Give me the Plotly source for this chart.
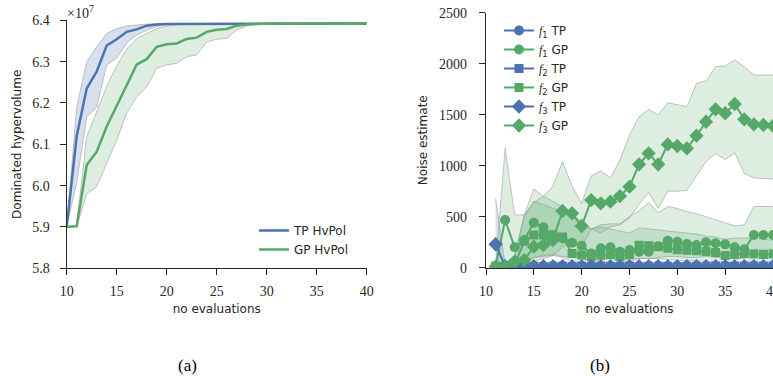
import plotly.graph_objects as go

# ---------------- data: panel (a) (values in units of 1e7) ----------------
evals_a = list(range(10, 41))
tp_mean = [5.900, 6.120, 6.235, 6.276, 6.339, 6.354, 6.372, 6.378, 6.387, 6.390,
           6.391, 6.391, 6.392, 6.392, 6.392, 6.392, 6.392, 6.392, 6.392, 6.392,
           6.392, 6.392, 6.392, 6.392, 6.392, 6.392, 6.392, 6.392, 6.392, 6.392, 6.392]
tp_upper = [5.900, 6.190, 6.300, 6.336, 6.368, 6.380, 6.386, 6.389, 6.391, 6.392,
            6.392, 6.392, 6.392, 6.392, 6.392, 6.392, 6.392, 6.392, 6.392, 6.392,
            6.392, 6.392, 6.392, 6.392, 6.392, 6.392, 6.392, 6.392, 6.392, 6.392, 6.392]
tp_lower = [5.900, 6.008, 6.166, 6.190, 6.292, 6.309, 6.345, 6.364, 6.376, 6.385,
            6.389, 6.390, 6.391, 6.391, 6.391, 6.391, 6.391, 6.391, 6.391, 6.391,
            6.391, 6.391, 6.391, 6.391, 6.391, 6.391, 6.391, 6.391, 6.391, 6.391, 6.391]
gp_mean = [5.900, 5.902, 6.050, 6.082, 6.143, 6.191, 6.243, 6.293, 6.306, 6.336,
           6.342, 6.344, 6.355, 6.358, 6.372, 6.377, 6.379, 6.387, 6.390, 6.391,
           6.392, 6.392, 6.392, 6.392, 6.392, 6.392, 6.392, 6.392, 6.392, 6.392, 6.392]
gp_upper = [5.900, 5.905, 6.118, 6.180, 6.240, 6.290, 6.330, 6.356, 6.368, 6.380,
            6.386, 6.389, 6.390, 6.391, 6.392, 6.392, 6.392, 6.392, 6.392, 6.392,
            6.392, 6.392, 6.392, 6.392, 6.392, 6.392, 6.392, 6.392, 6.392, 6.392, 6.392]
gp_lower = [5.900, 5.900, 5.981, 5.997, 6.054, 6.110, 6.175, 6.215, 6.239, 6.284,
            6.292, 6.296, 6.312, 6.316, 6.348, 6.354, 6.356, 6.377, 6.386, 6.390,
            6.391, 6.391, 6.391, 6.391, 6.391, 6.391, 6.391, 6.391, 6.391, 6.391, 6.391]

# ---------------- data: panel (b) ----------------
evals_b = list(range(11, 41))
f1_tp = [12, 10, 9, 11, 10, 12, 11, 10, 12, 11, 10, 12, 11, 10, 11, 12, 10, 11, 12, 11,
         10, 11, 12, 10, 11, 12, 11, 10, 11, 12]
f2_tp = [14, 13, 12, 14, 13, 12, 14, 13, 12, 13, 14, 13, 12, 13, 14, 12, 13, 14, 13, 12,
         13, 14, 12, 13, 14, 13, 12, 13, 14, 13]
f3_tp = [230, 15, 14, 16, 15, 14, 15, 16, 14, 15, 16, 15, 14, 15, 16, 14, 15, 16, 15, 14,
         15, 16, 14, 15, 16, 15, 14, 15, 16, 15]
f1_gp = [10, 467, 200, 271, 441, 396, 320, 288, 245, 216, 140, 190, 200, 157, 173, 157,
         157, 210, 265, 255, 232, 222, 249, 239, 229, 200, 180, 320, 320, 320]
f2_gp = [15, 15, 30, 260, 320, 320, 320, 300, 140, 125, 110, 125, 130, 110, 130, 220,
         215, 205, 190, 175, 170, 165, 160, 150, 120, 130, 140, 135, 130, 135]
f3_gp = [10, 10, 59, 75, 206, 222, 271, 556, 533, 409, 663, 631, 647, 702, 794, 1013,
         1121, 1013, 1209, 1193, 1170, 1294, 1431, 1553, 1514, 1605, 1455, 1406, 1399, 1390]

f3_tp_lo = [0, 0, 0, 0, 0, 0, 0, 0, 0, 0, 0, 0, 0, 0, 0, 0, 0, 0, 0, 0,
            0, 0, 0, 0, 0, 0, 0, 0, 0, 0]
f3_tp_hi = [680, 30, 28, 30, 29, 28, 30, 29, 28, 29, 30, 29, 28, 29, 30, 28, 29, 30, 29, 28,
            29, 30, 28, 29, 30, 29, 28, 29, 30, 29]
f1_gp_lo = [0, 0, 0, 60, 100, 120, 130, 110, 100, 90, 60, 80, 90, 70, 80, 90, 90, 100,
            110, 110, 100, 100, 110, 100, 100, 90, 90, 180, 180, 180]
f1_gp_hi = [30, 1170, 515, 520, 770, 700, 650, 600, 520, 450, 380, 420, 430, 430, 500,
            560, 640, 540, 600, 580, 550, 530, 500, 470, 440, 410, 420, 600, 600, 600]
f2_gp_lo = [0, 0, 0, 50, 100, 110, 120, 100, 60, 50, 40, 50, 50, 40, 50, 90, 90, 90, 80,
            70, 70, 70, 60, 60, 50, 50, 60, 60, 50, 60]
f2_gp_hi = [30, 40, 120, 500, 650, 620, 580, 560, 500, 420, 380, 400, 380, 360, 340, 390,
            380, 370, 360, 350, 340, 330, 310, 300, 280, 290, 290, 290, 280, 270]
f3_gp_lo = [0, 0, 0, 0, 60, 90, 120, 200, 250, 200, 380, 340, 400, 420, 490, 620, 740,
            580, 750, 750, 760, 900, 1040, 1120, 1060, 1125, 925, 880, 875, 870]
f3_gp_hi = [30, 40, 120, 520, 640, 700, 800, 1040, 800, 630, 900, 950, 880, 1055, 1300,
            1480, 1553, 1497, 1618, 1595, 1578, 1808, 1830, 1971, 1977, 2036, 1971, 1889,
            1889, 1889]

x_ticks = [10, 15, 20, 25, 30, 35, 40]
ya_ticks = [5.8, 5.9, 6.0, 6.1, 6.2, 6.3, 6.4]
yb_ticks = [0, 500, 1000, 1500, 2000, 2500]

# ---------------- styling ----------------
BLUE = "#4C72B0"
GREEN = "#55A868"
BLUE_FILL = "rgba(76,114,176,0.22)"
GREEN_FILL = "rgba(85,168,104,0.20)"
EDGE = "rgba(150,150,150,0.55)"
INK = "#262626"
SERIF = "Liberation Serif"
SANS = "DejaVu Sans"

fig = go.Figure()


def band(x, lo, hi, fill, xa, ya):
    fig.add_trace(go.Scatter(x=x, y=lo, mode="lines", line=dict(color=EDGE, width=1),
                             showlegend=False, hoverinfo="skip", xaxis=xa, yaxis=ya))
    fig.add_trace(go.Scatter(x=x, y=hi, mode="lines", line=dict(color=EDGE, width=1),
                             fill="tonexty", fillcolor=fill,
                             showlegend=False, hoverinfo="skip", xaxis=xa, yaxis=ya))


# panel (a)
band(evals_a, tp_lower, tp_upper, BLUE_FILL, "x", "y")
band(evals_a, gp_lower, gp_upper, GREEN_FILL, "x", "y")
fig.add_trace(go.Scatter(x=evals_a, y=tp_mean, mode="lines", name="TP HvPol",
                         line=dict(color=BLUE, width=2.5), legend="legend"))
fig.add_trace(go.Scatter(x=evals_a, y=gp_mean, mode="lines", name="GP HvPol",
                         line=dict(color=GREEN, width=2.5), legend="legend"))

# panel (b)
band(evals_b, f3_tp_lo, f3_tp_hi, BLUE_FILL, "x2", "y2")
band(evals_b, f1_gp_lo, f1_gp_hi, GREEN_FILL, "x2", "y2")
band(evals_b, f2_gp_lo, f2_gp_hi, GREEN_FILL, "x2", "y2")
band(evals_b, f3_gp_lo, f3_gp_hi, GREEN_FILL, "x2", "y2")

F = "<span style='font-family:%s'><i>f</i></span>" % SERIF
series_b = [
    (F + "<sub>1</sub> TP", f1_tp, BLUE, "circle", 10),
    (F + "<sub>1</sub> GP", f1_gp, GREEN, "circle", 10),
    (F + "<sub>2</sub> TP", f2_tp, BLUE, "square", 9),
    (F + "<sub>2</sub> GP", f2_gp, GREEN, "square", 9),
    (F + "<sub>3</sub> TP", f3_tp, BLUE, "diamond", 11),
    (F + "<sub>3</sub> GP", f3_gp, GREEN, "diamond", 11),
]
for name, ys, col, sym, sz in series_b:
    fig.add_trace(go.Scatter(x=evals_b, y=ys, mode="lines+markers", name=name,
                             line=dict(color=col, width=2),
                             marker=dict(color=col, symbol=sym, size=sz, line=dict(width=0)),
                             xaxis="x2", yaxis="y2", legend="legend2"))

W, H = 773, 381


def px_x(p):
    return p / W


def px_y(p):
    return (H - p) / H


axis_common = dict(showline=True, linecolor=INK, linewidth=1.25, ticks="outside",
                   ticklen=6, tickwidth=1.25, tickcolor=INK, showgrid=False,
                   zeroline=False, mirror=False, automargin=False,
                   ticklabeloverflow="allow",
                   tickfont=dict(family=SERIF, size=14, color=INK))
title_font = dict(family=SANS, size=12, color=INK)

fig.update_layout(
    width=W, height=H, margin=dict(l=0, r=0, t=0, b=0, autoexpand=False),
    paper_bgcolor="white", plot_bgcolor="white",
    xaxis=dict(domain=[px_x(66.7), px_x(366.7)], range=[10, 40], tickvals=x_ticks,
               title=dict(text="no evaluations", font=title_font, standoff=6),
               anchor="y", ticklabelstandoff=4, **axis_common),
    yaxis=dict(domain=[px_y(268.3), px_y(20.3)], range=[5.8, 6.4],
               tickvals=ya_ticks, tickformat=".1f",
               title=dict(text="Dominated hypervolume", font=title_font, standoff=8),
               anchor="x", ticklabelstandoff=7, **axis_common),
    xaxis2=dict(domain=[px_x(486), 1.0], range=[10, 40], tickvals=x_ticks,
                title=dict(text="no evaluations", font=title_font, standoff=6),
                anchor="y2", ticklabelstandoff=4, **axis_common),
    yaxis2=dict(domain=[px_y(267.7), px_y(12.7)], range=[0, 2500],
                tickvals=yb_ticks,
                title=dict(text="Noise estimate", font=title_font, standoff=8),
                anchor="x2", ticklabelstandoff=9, **axis_common),
    legend=dict(x=px_x(254), y=px_y(216), xanchor="left", yanchor="top",
                bgcolor="rgba(0,0,0,0)", font=dict(family=SANS, size=12, color=INK),
                tracegroupgap=0, traceorder="normal"),
    legend2=dict(x=px_x(499), y=px_y(16), xanchor="left", yanchor="top",
                 bgcolor="rgba(0,0,0,0)", font=dict(family=SANS, size=12, color=INK),
                 tracegroupgap=0, traceorder="normal"),
    annotations=[
        dict(text="×10<sup>7</sup>", x=px_x(65), y=px_y(12), xref="paper", yref="paper",
             xanchor="left", yanchor="middle", showarrow=False,
             font=dict(family=SERIF, size=14, color=INK)),
        dict(text="(a)", x=px_x(187), y=px_y(365), xref="paper", yref="paper",
             xanchor="center", yanchor="middle", showarrow=False,
             font=dict(family=SERIF, size=17, color="black")),
        dict(text="(b)", x=px_x(600), y=px_y(365), xref="paper", yref="paper",
             xanchor="center", yanchor="middle", showarrow=False,
             font=dict(family=SERIF, size=17, color="black")),
    ],
)

# remove the default 8px page margin so the figure fills the window exactly
fig.write_html("out.html", config={"displayModeBar": False},
               post_script="document.body.style.margin='0';")
